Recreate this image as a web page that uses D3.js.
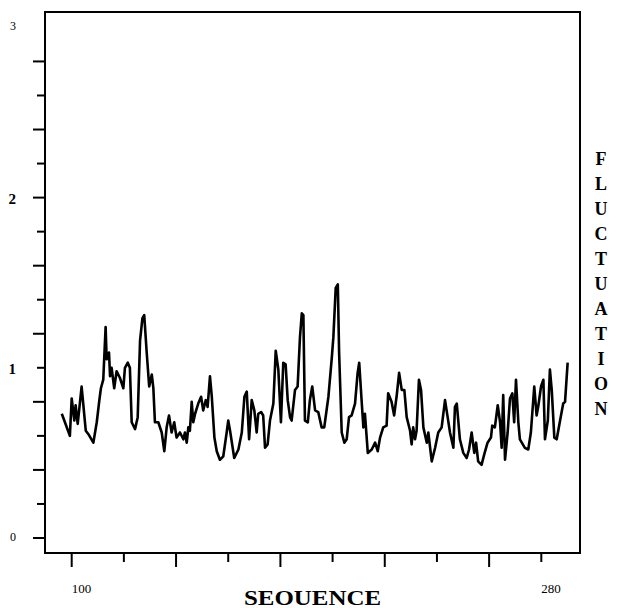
<!DOCTYPE html>
<html>
<head>
<meta charset="utf-8">
<script src="https://cdn.jsdelivr.net/npm/d3@7"></script>
<style>
  body { margin: 0; background: #fff; }
  svg { display: block; font-family: 'Liberation Serif', 'DejaVu Serif', serif; }
</style>
</head>
<body>
<div id="chart"></div>
<script>
'use strict';

// residue positions and fluctuation values
var residues = [96.2, 97.4, 99.3, 100.0, 101.0, 101.5, 102.3, 103.8, 105.4, 106.4,
    108.3, 109.6, 110.6, 111.2, 112.1, 113.0, 113.4, 114.3, 114.7, 115.3,
    116.3, 117.2, 118.5, 119.8, 120.4, 121.5, 122.3, 123.0, 124.3, 125.3,
    126.2, 127.1, 127.8, 128.7, 129.7, 130.7, 131.3, 131.9, 133.2, 134.5,
    135.5, 136.4, 137.3, 138.3, 139.3, 140.2, 141.5, 142.8, 143.4, 144.1,
    144.7, 145.3, 146.0, 146.6, 147.3, 148.5, 149.6, 150.4, 151.4, 152.1,
    153.0, 153.7, 154.7, 155.6, 156.8, 158.1, 159.4, 160.0, 160.7, 162.3,
    163.9, 165.2, 166.2, 167.1, 168.0, 169.0, 170.0, 170.9, 171.5, 172.6,
    173.4, 174.1, 175.1, 176.0, 177.3, 178.2, 179.2, 180.2, 181.1, 182.0,
    182.8, 183.7, 184.3, 185.6, 186.6, 187.5, 188.2, 188.8, 189.4, 190.5,
    191.3, 192.2, 193.3, 194.5, 195.8, 196.8, 198.4, 199.7, 200.3, 201.2,
    202.0, 202.5, 203.5, 204.5, 205.4, 206.3, 207.3, 208.6, 209.6, 210.2,
    211.2, 211.8, 212.4, 213.5, 215.0, 216.3, 217.3, 218.2, 219.4, 220.7,
    221.3, 222.6, 223.6, 224.6, 225.5, 226.5, 227.5, 228.4, 229.7, 230.3,
    230.9, 231.6, 232.2, 233.1, 233.9, 234.8, 236.1, 236.7, 238.0, 239.3,
    240.5, 241.8, 243.1, 244.1, 245.0, 246.3, 246.9, 247.6, 248.8, 250.1,
    251.4, 252.3, 253.3, 254.3, 255.0, 255.8, 257.1, 258.1, 259.4, 260.7,
    261.2, 262.2, 263.3, 264.2, 264.8, 265.4, 266.1, 267.1, 268.0, 268.9,
    269.6, 270.3, 271.2, 271.8, 273.7, 275.0, 276.0, 277.3, 278.2, 278.8,
    279.9, 280.8, 281.4, 282.5, 283.3, 284.0, 285.0, 285.9, 287.2, 288.4,
    289.1, 290.1];

var fluctuation = [0.73, 0.68, 0.60, 0.82, 0.69, 0.78, 0.67, 0.89, 0.63, 0.61,
    0.56, 0.68, 0.81, 0.88, 0.93, 1.24, 1.05, 1.09, 0.95, 1.00,
    0.88, 0.98, 0.94, 0.88, 1.00, 1.03, 1.00, 0.68, 0.64, 0.71,
    1.16, 1.29, 1.31, 1.10, 0.89, 0.96, 0.88, 0.68, 0.68, 0.62,
    0.51, 0.65, 0.72, 0.62, 0.68, 0.59, 0.62, 0.58, 0.62, 0.56,
    0.65, 0.63, 0.80, 0.68, 0.73, 0.79, 0.83, 0.75, 0.81, 0.77,
    0.95, 0.83, 0.59, 0.51, 0.46, 0.48, 0.62, 0.69, 0.63, 0.47,
    0.52, 0.62, 0.83, 0.86, 0.58, 0.81, 0.75, 0.62, 0.73, 0.74,
    0.72, 0.53, 0.55, 0.69, 0.79, 1.10, 0.99, 0.68, 1.03, 1.02,
    0.81, 0.71, 0.69, 0.87, 0.89, 1.18, 1.32, 1.31, 0.69, 0.68,
    0.81, 0.89, 0.75, 0.74, 0.65, 0.65, 0.83, 1.06, 1.18, 1.47,
    1.49, 1.09, 0.62, 0.56, 0.58, 0.71, 0.72, 0.79, 0.97, 1.03,
    0.79, 0.65, 0.73, 0.50, 0.52, 0.56, 0.51, 0.59, 0.65, 0.66,
    0.85, 0.80, 0.72, 0.84, 0.97, 0.87, 0.87, 0.71, 0.63, 0.55,
    0.65, 0.58, 0.63, 0.93, 0.87, 0.65, 0.56, 0.62, 0.45, 0.53,
    0.62, 0.65, 0.81, 0.71, 0.62, 0.53, 0.77, 0.79, 0.58, 0.50,
    0.47, 0.52, 0.62, 0.50, 0.56, 0.45, 0.43, 0.49, 0.56, 0.59,
    0.66, 0.65, 0.78, 0.68, 0.53, 0.84, 0.46, 0.62, 0.82, 0.85,
    0.68, 0.93, 0.68, 0.58, 0.53, 0.52, 0.62, 0.89, 0.72, 0.77,
    0.89, 0.93, 0.58, 0.69, 0.99, 0.87, 0.59, 0.58, 0.69, 0.79,
    0.80, 1.03];

var xTicks = [100, 120, 140, 160, 180, 200, 220, 240, 260, 280];
var xLabels = [100, 280];
var yTicks = [0, 0.2, 0.4, 0.6, 0.8, 1, 1.2, 1.4, 1.6, 1.8, 2, 2.2, 2.4, 2.6, 2.8];
var yLabels = [0, 1, 2, 3];
var sideTitle = 'FLUCTUATION';
var bottomTitle = 'SEOUENCE';

var width = 619,
    height = 608,
    frameLeft = 45,
    frameRight = 580,
    frameTop = 12,
    frameBottom = 553;

var x = d3.scaleLinear().domain([100, 280]).range([71.7, 541.3]);
var y = d3.scaleLinear().domain([0, 3]).range([538, 27.4]);

var svg = d3.select('#chart')
    .append('svg')
    .attr('width', width)
    .attr('height', height);

//frame
svg.append('rect')
    .attr('x', frameLeft)
    .attr('y', frameTop)
    .attr('width', frameRight - frameLeft)
    .attr('height', frameBottom - frameTop)
    .style('fill', 'none')
    .style('stroke', '#000')
    .attr('stroke-width', 2);

//y ticks, long and short by turns
svg.selectAll('.ytick')
    .data(yTicks)
    .enter()
    .append('line')
    .attr('class', 'ytick')
    .attr('x1', function (d, i) { return i % 2 === 0 ? frameLeft - 12 : frameLeft - 8; })
    .attr('x2', frameLeft)
    .attr('y1', function (d) { return y(d); })
    .attr('y2', function (d) { return y(d); })
    .style('stroke', '#000')
    .attr('stroke-width', 2);

svg.selectAll('.ylabel')
    .data(yLabels)
    .enter()
    .append('text')
    .attr('class', 'ylabel')
    .attr('x', 16)
    .attr('y', function (d) { return y(d) + (d === 0 ? -1 : d === 3 ? -2 : 1); })
    .attr('dy', '0.35em')
    .attr('text-anchor', 'end')
    .style('font-size', function (d) { return (d === 1 || d === 2) ? '15px' : '12px'; })
    .style('font-weight', function (d) { return (d === 1 || d === 2) ? 'bold' : 'normal'; })
    .text(function (d) { return d; });

//x ticks
svg.selectAll('.xtick')
    .data(xTicks)
    .enter()
    .append('line')
    .attr('class', 'xtick')
    .attr('x1', function (d) { return x(d); })
    .attr('x2', function (d) { return x(d); })
    .attr('y1', frameBottom)
    .attr('y2', function (d, i) { return i % 2 === 0 ? frameBottom + 14 : frameBottom + 9; })
    .style('stroke', '#000')
    .attr('stroke-width', 2);

svg.selectAll('.xlabel')
    .data(xLabels)
    .enter()
    .append('text')
    .attr('class', 'xlabel')
    .attr('x', function (d) { return x(d); })
    .attr('y', 593)
    .style('font-size', '13px')
    .text(function (d) { return d; });

svg.append('text')
    .attr('x', 244)
    .attr('y', 605)
    .attr('textLength', 137)
    .attr('lengthAdjust', 'spacingAndGlyphs')
    .style('font-size', '20px')
    .style('font-weight', 'bold')
    .text(bottomTitle);

svg.selectAll('.side')
    .data(sideTitle.split(''))
    .enter()
    .append('text')
    .attr('class', 'side')
    .attr('x', 601)
    .attr('y', function (d, i) { return 165 + i * 25; })
    .attr('text-anchor', 'middle')
    .style('font-size', '18px')
    .style('font-weight', 'bold')
    .text(function (d) { return d; });

//the trace
var line = d3.line()
    .x(function (d) { return x(d[0]); })
    .y(function (d) { return y(d[1]); });

svg.append('path')
    .datum(d3.zip(residues, fluctuation))
    .attr('d', line)
    .style('fill', 'none')
    .style('stroke', '#000')
    .attr('stroke-width', 2.6)
    .attr('stroke-linejoin', 'round');
</script>
</body>
</html>
